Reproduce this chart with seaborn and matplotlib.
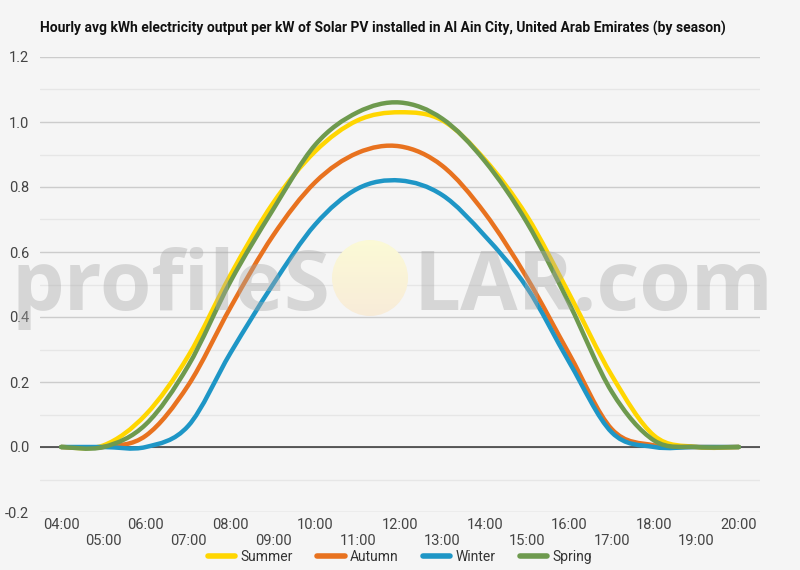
import numpy as np
import pandas as pd
import matplotlib
matplotlib.use("Agg")
import matplotlib.pyplot as plt
import seaborn as sns
from matplotlib.path import Path
from matplotlib.patches import PathPatch, Circle
from matplotlib.lines import Line2D

# ---------------- data ----------------
hours = list(range(4, 21))
hour_labels = [f"{h:02d}:00" for h in hours]
seasons = ["Summer", "Autumn", "Winter", "Spring"]
summer = [0.0, 0.005, 0.10, 0.28, 0.53, 0.75, 0.91, 1.005, 1.03, 1.005, 0.885, 0.71, 0.47, 0.22, 0.035, 0.0, 0.0]
autumn = [0.0, 0.0, 0.035, 0.19, 0.43, 0.65, 0.815, 0.905, 0.925, 0.865, 0.72, 0.52, 0.285, 0.055, 0.005, 0.0, 0.0]
winter = [0.0, 0.0, 0.0, 0.065, 0.29, 0.50, 0.685, 0.795, 0.82, 0.775, 0.65, 0.49, 0.26, 0.045, 0.0, 0.0, 0.0]
spring = [0.0, 0.0, 0.07, 0.25, 0.51, 0.73, 0.93, 1.03, 1.06, 1.01, 0.88, 0.69, 0.44, 0.17, 0.02, 0.0, 0.0]
y_ticks = [-0.2, 0.0, 0.2, 0.4, 0.6, 0.8, 1.0, 1.2]
title = "Hourly avg kWh electricity output per kW of Solar PV installed in Al Ain City, United Arab Emirates (by season)"

colors = {"Summer": "#FFD600", "Autumn": "#E8721F", "Winter": "#1E96C6", "Spring": "#6E9A4E"}
series = {"Summer": summer, "Autumn": autumn, "Winter": winter, "Spring": spring}

df = pd.concat(
    [pd.DataFrame({"hour": hours, "kwh": vals, "season": s}) for s, vals in series.items()],
    ignore_index=True,
)

# ---------------- style ----------------
BG = "#f5f5f5"
sns.set_theme(style="white", rc={"figure.facecolor": BG, "axes.facecolor": BG})
plt.rcParams["font.family"] = ["Roboto", "DejaVu Sans"]

fig = plt.figure(figsize=(8, 5.7), dpi=100)
ax = fig.add_axes([40 / 800, 58 / 570, 720 / 800, 455 / 570])
ax.set_facecolor(BG)

sns.lineplot(data=df, x="hour", y="kwh", hue="season", hue_order=seasons,
             palette=colors, linewidth=3, legend=False, ax=ax)
# the reference draws smoothed curves through the hourly points;
# hide the straight segments and draw the same points as Bezier curves
for ln in ax.lines:
    ln.set_visible(False)


def smooth_path(xs, ys):
    xs = np.asarray(xs, float)
    ys = np.asarray(ys, float)
    n = len(xs)
    tx = np.empty(n)
    ty = np.empty(n)
    for i in range(n):
        a = max(i - 1, 0)
        b = min(i + 1, n - 1)
        tx[i] = (xs[b] - xs[a]) / 2.0
        ty[i] = (ys[b] - ys[a]) / 2.0
    verts = [(xs[0], ys[0])]
    codes = [Path.MOVETO]
    for i in range(n - 1):
        verts += [(xs[i] + tx[i] / 3, ys[i] + ty[i] / 3),
                  (xs[i + 1] - tx[i + 1] / 3, ys[i + 1] - ty[i + 1] / 3),
                  (xs[i + 1], ys[i + 1])]
        codes += [Path.CURVE4] * 3
    return Path(verts, codes)


for i, s in enumerate(seasons):
    sub = df[df["season"] == s]
    patch = PathPatch(smooth_path(sub["hour"], sub["kwh"]), facecolor="none",
                      edgecolor=colors[s], lw=3.2, capstyle="round",
                      joinstyle="round", zorder=3 + i)
    ax.add_patch(patch)

# axes
ax.set_xlim(3.5, 20.5)
ax.set_ylim(-0.2, 1.2)
ax.set_yticks(y_ticks)
ax.set_yticklabels([f"{v:.1f}" for v in y_ticks])
ax.set_yticks(np.arange(-0.1, 1.2, 0.2), minor=True)
ax.set_xticks(hours)
ax.set_xticklabels([lab if i % 2 == 0 else "\n" + lab for i, lab in enumerate(hour_labels)])
ax.tick_params(axis="both", length=0, labelsize=10.5, labelcolor="#444444")
ax.tick_params(axis="x", pad=4)
ax.tick_params(axis="y", pad=8)
ax.tick_params(axis="y", which="minor", length=0)
ax.grid(axis="y", which="major", color="#cccccc", lw=1)
ax.grid(axis="y", which="minor", color="#e6e6e6", lw=1)
ax.grid(axis="x", visible=False)
ax.axhline(0, color="#333333", lw=1.1, zorder=2)
for sp in ax.spines.values():
    sp.set_visible(False)
ax.set_xlabel("")
ax.set_ylabel("")
ax.set_axisbelow(True)

# title
fig.text(40 / 800, 1 - 28 / 570, title, fontsize=10, fontweight="bold",
         color="#111111", ha="left", va="center")

# watermark
wm_font = ["Open Sans", "DejaVu Sans"]
fig.text(330 / 800, 1 - 310 / 570, "profileS", fontsize=60, family=wm_font, fontweight="bold",
         color="#a8a8a8", alpha=0.4, ha="right", va="baseline", zorder=20)
fig.text(414 / 800, 1 - 310 / 570, "LAR.com", fontsize=60, family=wm_font, fontweight="bold",
         color="#a8a8a8", alpha=0.4, ha="left", va="baseline", zorder=20)
# sun disc with a soft vertical gradient
sun_ax = fig.add_axes([332 / 800, 1 - 316 / 570, 76 / 800, 76 / 570], zorder=19)
sun_ax.axis("off")
grad = np.linspace(0, 1, 64)[:, None]
top = np.array([0.985, 0.980, 0.84])
bot = np.array([0.975, 0.925, 0.85])
img = (top[None, None, :] * (1 - grad[..., None]) + bot[None, None, :] * grad[..., None])
img = np.repeat(img, 8, axis=1)
im = sun_ax.imshow(img, extent=(0, 1, 0, 1), aspect="auto", origin="upper")
clip = Circle((0.5, 0.5), 0.5, transform=sun_ax.transAxes)
im.set_clip_path(clip)
sun_ax.set_xlim(0, 1)
sun_ax.set_ylim(0, 1)

# legend
handles = [Line2D([0], [0], color=colors[s], lw=4) for s in seasons]
ax.legend(handles, seasons, loc="center", bbox_to_anchor=(0.5, 13 / 570),
          bbox_transform=fig.transFigure, ncol=4, frameon=False, fontsize=10,
          handlelength=2.0, columnspacing=1.7, handletextpad=0.4,
          labelcolor="#333333")

fig.savefig("out.png", dpi=100, facecolor=BG)
